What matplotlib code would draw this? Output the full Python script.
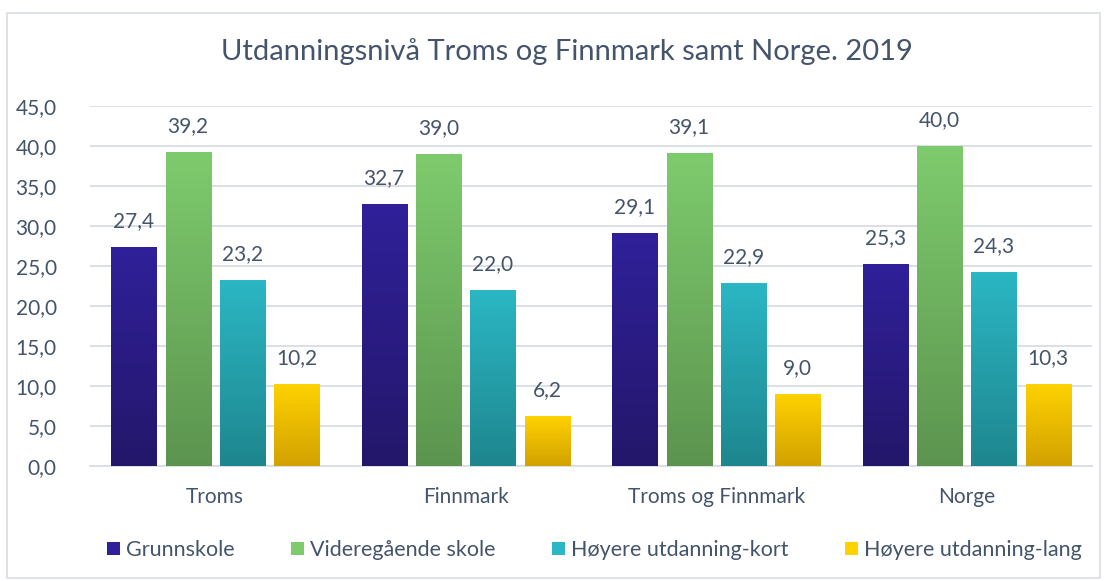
import matplotlib.pyplot as plt
import matplotlib.colors as mcolors
from matplotlib.patches import Rectangle
import numpy as np

regions = ['Troms', 'Finnmark', 'Troms og Finnmark', 'Norge']
series = ['Grunnskole', 'Videregående skole', 'Høyere utdanning-kort', 'Høyere utdanning-lang']
grunnskole = [27.4, 32.7, 29.1, 25.3]
videregaende = [39.2, 39.0, 39.1, 40.0]
hoyere_kort = [23.2, 22.0, 22.9, 24.3]
hoyere_lang = [10.2, 6.2, 9.0, 10.3]
values = [grunnskole, videregaende, hoyere_kort, hoyere_lang]

# (top, bottom) gradient colours
grads = [('#30209a', '#23176a'), ('#7ecb6d', '#5c944f'),
         ('#2bb7c4', '#1e868e'), ('#ffd200', '#d2a100')]
txt = '#44546a'

plt.rcParams['font.family'] = ['Lato', 'DejaVu Sans']

fig = plt.figure(figsize=(11.07, 5.81), dpi=100)
ax = fig.add_axes([90 / 1107, 115 / 581, 1002 / 1107, 360 / 581])

x = np.arange(len(regions))
pitch = 0.217
width = 0.18
grad_img = np.linspace(0, 1, 256).reshape(-1, 1)
for i, vals in enumerate(values):
    pos = x + (i - 1.5) * pitch
    bars = ax.bar(pos, vals, width, color=grads[i][0], zorder=3, label=series[i])
    cmap = mcolors.LinearSegmentedColormap.from_list('g%d' % i, [grads[i][1], grads[i][0]])
    for b, v in zip(bars, vals):
        b.set_facecolor('none')
        b.set_edgecolor('none')
        im = ax.imshow(grad_img, cmap=cmap, origin='lower', aspect='auto',
                       extent=[b.get_x(), b.get_x() + width, 0, v], zorder=3)
        im.set_clip_path(b)
        ax.text(b.get_x() + width / 2, v + 2.0, f'{v:.1f}'.replace('.', ','),
                ha='center', va='bottom', fontsize=15, color=txt)

ax.set_xlim(-0.5, 3.5)
ax.set_ylim(0, 45)
ax.set_yticks(np.arange(0, 46, 5))
ax.set_yticklabels([f'{t:.1f}'.replace('.', ',') for t in np.arange(0, 46, 5)])
ax.set_xticks(x)
ax.set_xticklabels(regions)
ax.tick_params(axis='both', length=0, labelsize=15, labelcolor=txt)
ax.tick_params(axis='y', pad=24)
ax.tick_params(axis='x', pad=15)
ax.grid(axis='y', color='#d9dde4', linewidth=1.3, zorder=0)
for s in ['top', 'right', 'left']:
    ax.spines[s].set_visible(False)
ax.spines['bottom'].set_color('#d9dde4')
ax.spines['bottom'].set_linewidth(1.3)

fig.text(567 / 1107, 1 - 52 / 581, 'Utdanningsnivå Troms og Finnmark samt Norge. 2019',
         ha='center', va='center', fontsize=21, color=txt)

handles = [Rectangle((0, 0), 1, 1, facecolor=g[0]) for g in grads]
fig.legend(handles, series, loc='center', bbox_to_anchor=(0.537, 1 - 550 / 581),
           ncol=4, frameon=False, fontsize=15.5, labelcolor=txt,
           handlelength=0.6, handleheight=0.6, handletextpad=0.3, columnspacing=2.6)

fig.patches.append(Rectangle((7 / 1107, 3 / 581), 1093 / 1107, 565 / 581,
                             transform=fig.transFigure, fill=False,
                             edgecolor='#d9dde4', linewidth=1.2))

fig.savefig('out.png', dpi=100)
